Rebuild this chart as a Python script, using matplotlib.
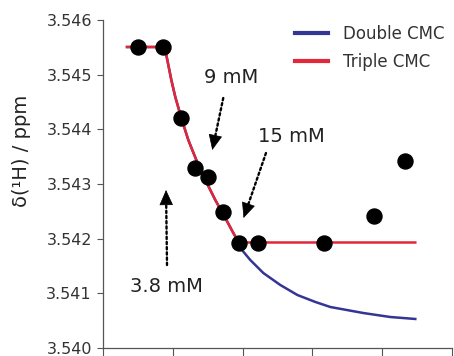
import numpy as np
import matplotlib
matplotlib.use("Agg")
import matplotlib.pyplot as plt
from matplotlib.ticker import FormatStrFormatter

plt.rcParams['font.family'] = ['DejaVu Sans']

# measured points
conc = [0.496, 0.860, 1.122, 1.322, 1.504, 1.719, 1.948, 2.225, 3.160, 3.877, 4.331]
shift = [3.545512, 3.545512, 3.544202, 3.543298, 3.543123, 3.542494,
         3.541925, 3.541925, 3.541925, 3.542415, 3.543421]

# fitted curves
x_triple = [0.344, 0.821, 0.878, 0.907, 0.936, 0.979, 1.036, 1.122, 1.222, 1.337,
            1.466, 1.609, 1.752, 1.867, 1.948, 4.474]
y_triple = [3.545506, 3.545506, 3.545470, 3.545360, 3.545177, 3.544902, 3.544591,
            3.544207, 3.543805, 3.543439, 3.543073, 3.542707, 3.542378, 3.542104,
            3.541930, 3.541930]
x_double = x_triple[:-1] + [1.967, 2.110, 2.297, 2.540, 2.784, 3.042, 3.257,
                            3.729, 4.116, 4.474]
y_double = y_triple[:-1] + [3.541829, 3.541610, 3.541372, 3.541153, 3.540970,
                            3.540842, 3.540750, 3.540640, 3.540567, 3.540531]

# annotations: label, text pos, arrow tail, arrow tip
notes = [
    ("9 mM", (1.841, 3.544957), (1.723, 3.544573), (1.566, 3.543622)),
    ("15 mM", (2.698, 3.543860), (2.335, 3.543567), (2.014, 3.542378)),
    ("3.8 mM", (0.907, 3.541116), (0.917, 3.541518), (0.903, 3.542890)),
]

fig = plt.figure(figsize=(4.54, 3.56), dpi=100)
ax = fig.add_axes([103/454, 8/356, 349/454, 328/356])

ax.plot(x_double, y_double, color='#343595', lw=1.8, label='Double CMC', zorder=2)
ax.plot(x_triple, y_triple, color='#e0283a', lw=1.8, label='Triple CMC', zorder=3)
ax.plot(conc, shift, 'o', color='black', ms=10.8, zorder=4)

for lab, tp, tail, tip in notes:
    ax.text(tp[0], tp[1], lab, fontsize=14, ha='center', va='center', color='#222222')
    # dotted shaft
    ax.annotate('', xy=tip, xytext=tail,
                arrowprops=dict(arrowstyle='-', linestyle=(0, (1, 1.2)), lw=1.7,
                                color='black', shrinkA=0, shrinkB=7))
    # solid head
    hx = tip[0] + 0.12 * (tail[0] - tip[0])
    hy = tip[1] + 0.12 * (tail[1] - tip[1])
    ax.annotate('', xy=tip, xytext=(hx, hy),
                arrowprops=dict(arrowstyle='-|>,head_length=1.0,head_width=0.45',
                                mutation_scale=10, lw=0.5,
                                color='black', shrinkA=0, shrinkB=0))

ax.set_xlim(0, 5)
ax.set_ylim(3.540, 3.546)
ax.set_xticks(range(6))
ax.set_xticklabels([])
ax.set_yticks(np.arange(3.540, 3.5461, 0.001))
ax.yaxis.set_major_formatter(FormatStrFormatter('%.3f'))
ax.tick_params(axis='y', direction='out', length=4, width=0.8, color='#555555',
               labelsize=11.5, labelcolor='#333333', pad=4)
ax.tick_params(axis='x', direction='out', length=7, width=0.8, color='#555555')
for s in ['top', 'right']:
    ax.spines[s].set_visible(False)
for s in ['left', 'bottom']:
    ax.spines[s].set_color('#555555')
    ax.spines[s].set_linewidth(0.9)

ax.set_ylabel('δ(¹H) / ppm', fontsize=14, color='#222222')
ax.yaxis.set_label_coords(-0.205, 0.60)

leg = ax.legend(loc='center left', bbox_to_anchor=(0.550, 0.9146), frameon=False,
                fontsize=12, handlelength=2.0, handletextpad=0.9, labelspacing=0.6,
                borderpad=0, borderaxespad=0)
for line in leg.get_lines():
    line.set_linewidth(3)
for t in leg.get_texts():
    t.set_color('#333333')

fig.savefig('out.png', dpi=100)
